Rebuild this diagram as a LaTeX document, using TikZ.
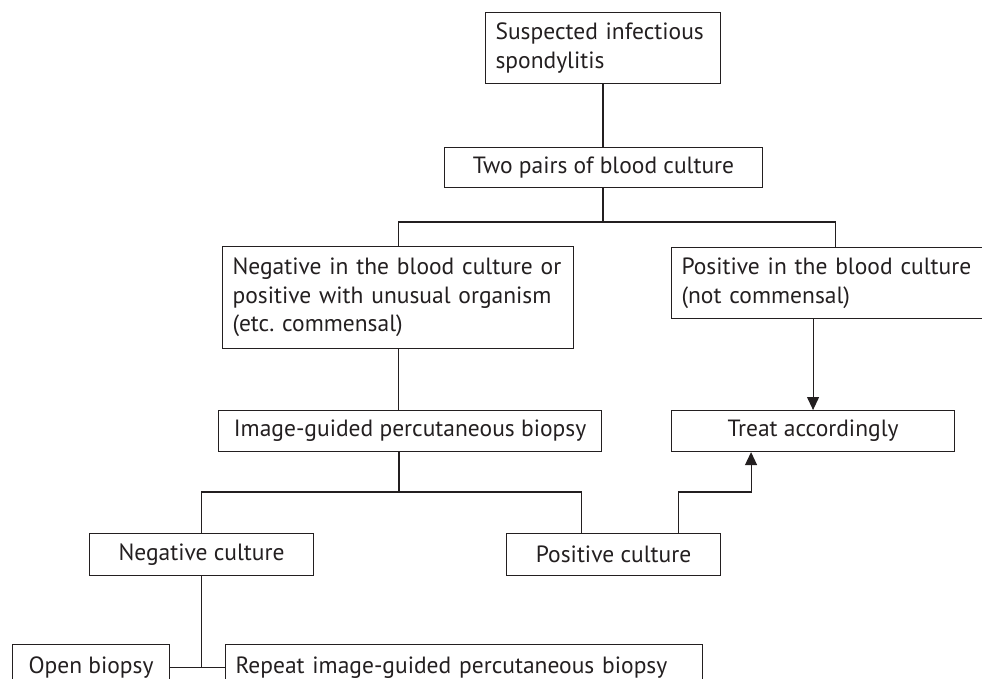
\documentclass[tikz,border=0pt]{standalone}
\usepackage{fontspec}
\setmainfont{PT Sans}
\usepackage{tikz}
\usetikzlibrary{arrows.meta}
\usepackage{color}
\definecolor{inkline}{HTML}{231F20}
\newcommand{\boxfont}{\fontsize{23.5}{28.5}\selectfont\frenchspacing}
\tikzset{
	stepbox/.style={draw=inkline, line width=1.1pt, text=inkline, font=\boxfont,
		inner xsep=10pt, inner ysep=0pt, anchor=north west},
	leftbox/.style={stepbox, align=left},
	link/.style={draw=inkline, line width=1.1pt},
	arr/.style={link, -{Triangle[width=12pt,length=13pt]}}
}

\begin{document}
\begin{tikzpicture}[x=1pt,y=-1pt]
	\useasboundingbox (0,0) rectangle (982,679);
	% boxes
	\node[leftbox, text width=215pt, minimum height=71pt] (susp) at (485,12) {Suspected infectious\\spondylitis};
	\node[stepbox, minimum width=318pt, minimum height=40pt] (pairs) at (444,147) {Two pairs of blood culture};
	\node[leftbox, text width=331pt, minimum height=102pt] (negbc) at (222,246) {Negative in the blood culture or\\positive with unusual organism\\(etc. commensal)};
	\node[leftbox, text width=308pt, minimum height=71pt] (posbc) at (671,247) {Positive in the blood culture\\(not commensal)};
	\node[stepbox, minimum width=383pt, minimum height=41pt] (imgbx) at (218,410) {Image-guided percutaneous biopsy};
	\node[stepbox, minimum width=283pt, minimum height=41pt] (treat) at (671,410) {Treat accordingly};
	\node[stepbox, minimum width=224pt, minimum height=42pt] (negcul) at (89,533) {Negative culture};
	\node[stepbox, minimum width=214pt, minimum height=42pt] (poscul) at (506,533) {Positive culture};
	\node[stepbox, minimum width=157pt, minimum height=46pt] (openb) at (12,644) {Open biopsy};
	\node[leftbox, text width=457pt, minimum height=46pt] (repb) at (225,644) {Repeat image-guided percutaneous biopsy};
	% connectors
	\coordinate (split1) at (603,222);
	\coordinate (split2) at (399,492);
	\draw[link] (split1 |- susp.south) -- (split1 |- pairs.north);
	\draw[link] (split1 |- pairs.south) -- (split1);
	\draw[link] (split1) -| (negbc.north);
	\draw[link] (split1) -| (posbc.north);
	\draw[arr] (posbc.south -| treat.north) -- (treat.north);
	\draw[link] (negbc.south) -- (negbc.south |- imgbx.north);
	\draw[link] (split2 |- imgbx.south) -- (split2);
	\draw[link] (split2) -| (negcul.north);
	\draw[link] (split2) -| ([xshift=-32pt]poscul.north);
	\draw[arr] ([xshift=65pt]poscul.north) -- ++(0,-41) -| ([xshift=-62pt]treat.south);
	\draw[link] (negcul.south) -- (negcul.south |- openb.east);
	\draw[link] (openb.east) -- (repb.west);
\end{tikzpicture}
\end{document}
